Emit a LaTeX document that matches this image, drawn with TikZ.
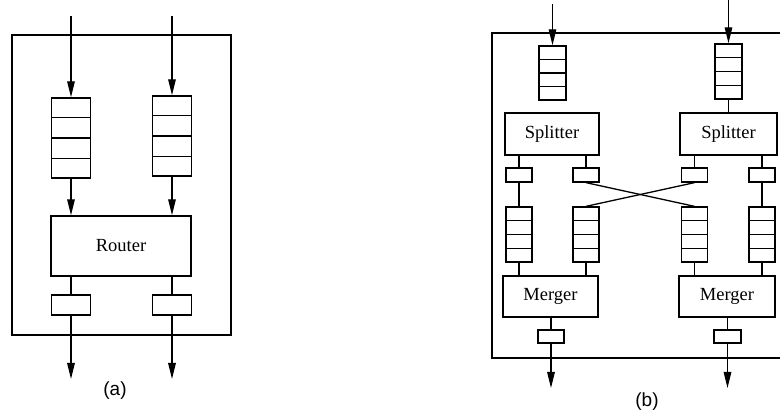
\documentclass[tikz,border=0pt]{standalone}
\usepackage{fontspec}
\setmainfont{Liberation Serif}
\newfontfamily\hv{Liberation Sans}
\usetikzlibrary{arrows.meta,calc}
\tikzset{
  lw/.style={line width=1.3pt},
  box/.style={draw, lw, rectangle, inner sep=0pt, fill=white},
  queue/.style={box},
  blk/.style={box, font=\fontsize{18.5}{20}\selectfont},
  arr/.style={lw, -{Triangle[length=16pt,width=7.5pt]}},
  ln/.style={lw},
  caption/.style={font=\hv\fontsize{19}{21}\selectfont}
}
\newcommand{\qcells}[1]{%
  \foreach \k in {0.25,0.5,0.75}{
    \draw[lw] ($(#1.north west)!\k!(#1.south west)$) -- ($(#1.north east)!\k!(#1.south east)$);}}
\begin{document}
\begin{tikzpicture}[x=1pt,y=-1pt]
\useasboundingbox (0,0) rectangle (780,419);
\clip (0,0) rectangle (780,419);
% ---------------- (a)
\draw[lw] (12,35) rectangle (231,335);
\node[queue, minimum width=39pt, minimum height=80pt] (qa1) at (71,138) {};
\node[queue, minimum width=39pt, minimum height=80pt] (qa2) at (172,136) {};
\qcells{qa1}\qcells{qa2}
\node[blk, minimum width=140pt, minimum height=60pt] (router) at (121,246) {Router};
\node[box, minimum width=39pt, minimum height=20pt] (oa1) at (71,305) {};
\node[box, minimum width=39pt, minimum height=20pt] (oa2) at (172,305) {};
\coordinate (ia1) at (71,16);
\coordinate (ia2) at (172,16);
\coordinate (ea1) at (71,379);
\coordinate (ea2) at (172,379);
\draw[arr] (ia1) -- (qa1.north);
\draw[arr] (ia2) -- (qa2.north);
\draw[arr] (qa1.south) -- (qa1.south |- router.north);
\draw[arr] (qa2.south) -- (qa2.south |- router.north);
\draw[ln] (oa1.north |- router.south) -- (oa1.north);
\draw[ln] (oa2.north |- router.south) -- (oa2.north);
\draw[arr] (oa1.south) -- (ea1);
\draw[arr] (oa2.south) -- (ea2);
\node[caption] (la) at (115,391) {(a)};
% ---------------- (b)
\draw[lw] (781,33) -- (492,33) -- (492,358) -- (781,358);
\node[queue, minimum width=27pt, minimum height=54pt] (qb1) at (552.5,73) {};
\node[queue, minimum width=27pt, minimum height=55pt] (qb2) at (728.5,71.5) {};
\qcells{qb1}\qcells{qb2}
\node[blk, minimum width=94pt, minimum height=42pt] (sp1) at (552,134) {Splitter};
\node[blk, minimum width=97pt, minimum height=42pt] (sp2) at (728.5,134) {Splitter};
\node[box, minimum width=26pt, minimum height=14pt] (sb1) at (519,175) {};
\node[box, minimum width=26pt, minimum height=14pt] (sb2) at (586,175) {};
\node[box, minimum width=26pt, minimum height=14pt] (sb3) at (694.5,175) {};
\node[box, minimum width=26pt, minimum height=14pt] (sb4) at (762,175) {};
\node[queue, minimum width=26pt, minimum height=55pt] (mq1) at (519,234.5) {};
\node[queue, minimum width=26pt, minimum height=55pt] (mq2) at (586,234.5) {};
\node[queue, minimum width=26pt, minimum height=55pt] (mq3) at (694.5,234.5) {};
\node[queue, minimum width=26pt, minimum height=55pt] (mq4) at (762,234.5) {};
\qcells{mq1}\qcells{mq2}\qcells{mq3}\qcells{mq4}
\node[blk, minimum width=95pt, minimum height=41pt] (mg1) at (550.5,296.5) {Merger};
\node[blk, minimum width=96pt, minimum height=41pt] (mg2) at (727,296.5) {Merger};
\node[box, minimum width=26pt, minimum height=13pt] (ob1) at (551,336.5) {};
\node[box, minimum width=27pt, minimum height=13pt] (ob2) at (727.5,336.5) {};
\coordinate (ib1) at (552.5,4);
\coordinate (ib2) at (728.5,0);
\coordinate (eb1) at (551,388);
\coordinate (eb2) at (727.5,388);
\draw[arr] (ib1) -- (qb1.north);
\draw[arr] (ib2) -- (qb2.north);
\draw[ln] (qb2.south) -- (qb2.south |- sp2.north);
\draw[ln] (sb1.north |- sp1.south) -- (sb1.north);
\draw[ln] (sb2.north |- sp1.south) -- (sb2.north);
\draw[ln] (sb3.north |- sp2.south) -- (sb3.north);
\draw[ln] (sb4.north |- sp2.south) -- (sb4.north);
\draw[ln] (sb1.south) -- (mq1.north);
\draw[ln] (sb4.south) -- (mq4.north);
\draw[ln] (sb2.south) -- (mq3.north);
\draw[ln] (sb3.south) -- (mq2.north);
\draw[ln] (mq1.south) -- (mq1.south |- mg1.north);
\draw[ln] (mq2.south) -- (mq2.south |- mg1.north);
\draw[ln] (mq3.south) -- (mq3.south |- mg2.north);
\draw[ln] (mq4.south) -- (mq4.south |- mg2.north);
\draw[ln] (ob1.north |- mg1.south) -- (ob1.north);
\draw[ln] (ob2.north |- mg2.south) -- (ob2.north);
\draw[arr] (ob1.south) -- (eb1);
\draw[arr] (ob2.south) -- (eb2);
\node[caption] (lb) at (647,402) {(b)};
\end{tikzpicture}
\end{document}
